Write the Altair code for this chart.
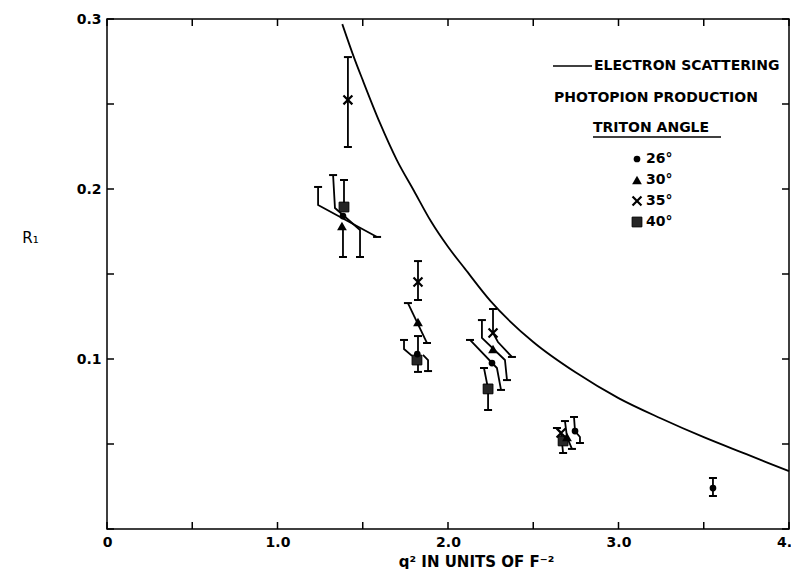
import altair as alt
import pandas as pd

# ---------------- data ----------------
# electron scattering curve
curve_q2 = [1.38, 1.45, 1.50, 1.60, 1.70, 1.80, 1.90, 2.00, 2.10, 2.25, 2.50, 2.75, 3.00, 3.25, 3.50, 3.75, 4.00]
curve_R = [0.297, 0.277, 0.264, 0.239, 0.217, 0.199, 0.181, 0.166, 0.153, 0.134, 0.110, 0.092, 0.077, 0.065, 0.054, 0.044, 0.034]

# photopion production points by triton angle
deg26_q2 = [1.384, 1.820, 2.258, 2.745, 3.554]
deg26_R = [0.1841, 0.1029, 0.0976, 0.0576, 0.0241]
deg30_q2 = [1.378, 1.824, 2.264, 2.698]
deg30_R = [0.1782, 0.1218, 0.1059, 0.0541]
deg35_q2 = [1.413, 1.824, 2.264, 2.663]
deg35_R = [0.2524, 0.1453, 0.1153, 0.0565]
deg40_q2 = [1.390, 1.818, 2.235, 2.675]
deg40_R = [0.1894, 0.0994, 0.0824, 0.0518]

# error bars (drawn as displaced polylines), end caps flags (first, last)
bar_q2 = [
    [1.413, 1.413],
    [1.238, 1.238, 1.584],
    [1.326, 1.337, 1.484, 1.484],
    [1.390, 1.390],
    [1.384, 1.384],
    [1.824, 1.824],
    [1.765, 1.877],
    [1.824, 1.824],
    [1.742, 1.742, 1.789],
    [1.853, 1.883, 1.883],
    [2.264, 2.264, 2.293, 2.375],
    [2.211, 2.235, 2.235],
    [2.199, 2.199, 2.334, 2.346],
    [2.129, 2.287, 2.311],
    [2.739, 2.745, 2.774, 2.774],
    [2.686, 2.698, 2.727],
    [2.639, 2.663, 2.675],
    [3.554, 3.554],
]
bar_R = [
    [0.2776, 0.2247],
    [0.2012, 0.1906, 0.1718],
    [0.2082, 0.1888, 0.1759, 0.1600],
    [0.2053, 0.1894],
    [0.1782, 0.1600],
    [0.1576, 0.1347],
    [0.1329, 0.1094],
    [0.1135, 0.0924],
    [0.1112, 0.1059, 0.1018],
    [0.1024, 0.0994, 0.0929],
    [0.1294, 0.1153, 0.1100, 0.1012],
    [0.0947, 0.0824, 0.0700],
    [0.1229, 0.1124, 0.0994, 0.0876],
    [0.1112, 0.0947, 0.0818],
    [0.0659, 0.0576, 0.0541, 0.0506],
    [0.0635, 0.0541, 0.0471],
    [0.0594, 0.0565, 0.0447],
    [0.0300, 0.0194],
]
bar_caps = [
    (True, True), (True, True), (True, True), (True, False), (False, True),
    (True, True), (True, True), (True, True), (True, False), (False, True),
    (True, True), (True, True), (True, True), (True, True),
    (True, True), (True, True), (True, True), (True, True),
]

x_ticks = [0.0, 0.5, 1.0, 1.5, 2.0, 2.5, 3.0, 3.5, 4.0]
y_ticks = [0.0, 0.05, 0.10, 0.15, 0.20, 0.25, 0.30]
x_labels = [0, 1, 2, 3, 4]
y_labels = [0.1, 0.2, 0.3]

legend_labels = ["26°", "30°", "35°", "40°"]
legend_kinds = ["circle", "triangle", "x", "square"]

# ---------------- layout ----------------
W, H = 682, 510
FONT = "DejaVu Sans"

xs = alt.Scale(domain=[0, 4], nice=False, zero=False)
ys = alt.Scale(domain=[0, 0.3], nice=False, zero=False)

xaxis = alt.Axis(
    values=x_labels, ticks=False, domain=False, grid=False,
    labelExpr="datum.value == 0 ? '0' : format(datum.value, '.1f')",
    labelFont=FONT, labelFontSize=14, labelFontWeight="bold", labelColor="black",
    labelPadding=6, labelFlush=False, labelOverlap=False,
    title="q² IN UNITS OF F⁻²", titleFont=FONT, titleFontSize=15, titleFontWeight="bold",
    titleColor="black", titleX=369, titleY=32, titleBaseline="middle", titleAlign="center",
)
yaxis = alt.Axis(
    values=y_labels, ticks=False, domain=False, grid=False, format=".1f",
    labelFont=FONT, labelFontSize=14, labelFontWeight="bold", labelColor="black",
    labelPadding=6, labelFlush=False, labelOverlap=False,
    title="R₁", titleFont=FONT, titleFontSize=15, titleFontWeight="normal",
    titleColor="black", titleAngle=0, titleX=-77, titleY=218,
    titleBaseline="middle", titleAlign="center",
)


def X(field):
    return alt.X(field, type="quantitative", scale=xs, axis=xaxis)


def Y(field):
    return alt.Y(field, type="quantitative", scale=ys, axis=yaxis)


MARKS = {
    "circle": dict(shape="circle", filled=True, size=45, color="black", opacity=1),
    "triangle": dict(shape="triangle-up", filled=True, size=95, color="black", opacity=1),
    "x": dict(shape="M-1,-1L1,1M-1,1L1,-1", filled=False, size=80, color="black",
              strokeWidth=2.2, opacity=1),
    "square": dict(shape="square", filled=True, size=95, fill="#262626", stroke="black",
                   strokeWidth=1, opacity=1),
}

# ---------------- tables ----------------
curve_df = pd.DataFrame({"q2": curve_q2, "R": curve_R})

bar_rows, cap_rows = [], []
for b, (qs, rs, caps) in enumerate(zip(bar_q2, bar_R, bar_caps)):
    for i, (q, r) in enumerate(zip(qs, rs)):
        bar_rows.append({"bar": b, "i": i, "q2": q, "R": r})
    if caps[0]:
        cap_rows.append({"q2": qs[0], "R": rs[0]})
    if caps[1]:
        cap_rows.append({"q2": qs[-1], "R": rs[-1]})
bar_df = pd.DataFrame(bar_rows)
cap_df = pd.DataFrame(cap_rows)

pts = {
    "square": pd.DataFrame({"q2": deg40_q2, "R": deg40_R}),
    "triangle": pd.DataFrame({"q2": deg30_q2, "R": deg30_R}),
    "circle": pd.DataFrame({"q2": deg26_q2, "R": deg26_R}),
    "x": pd.DataFrame({"q2": deg35_q2, "R": deg35_R}),
}

xt_df = pd.DataFrame({"t": x_ticks})
yt_df = pd.DataFrame({"t": y_ticks})
one = pd.DataFrame({"a": [0]})

layers = []

# frame ticks (inward)
layers.append(alt.Chart(xt_df).mark_rule(color="black", strokeWidth=1.5).encode(
    x=X("t"), y=alt.value(H), y2=alt.value(H - 7)))
layers.append(alt.Chart(xt_df).mark_rule(color="black", strokeWidth=1.5).encode(
    x=X("t"), y=alt.value(0), y2=alt.value(7)))
layers.append(alt.Chart(yt_df).mark_rule(color="black", strokeWidth=1.5).encode(
    y=Y("t"), x=alt.value(0), x2=alt.value(7)))
layers.append(alt.Chart(yt_df).mark_rule(color="black", strokeWidth=1.5).encode(
    y=Y("t"), x=alt.value(W), x2=alt.value(W - 7)))

# curve
layers.append(alt.Chart(curve_df).mark_line(color="black", strokeWidth=1.8,
                                            interpolate="monotone").encode(
    x=X("q2"), y=Y("R")))

# error bars
layers.append(alt.Chart(bar_df).mark_line(color="black", strokeWidth=1.8).encode(
    x=X("q2"), y=Y("R"), detail="bar:N", order="i:Q"))
layers.append(alt.Chart(cap_df).mark_point(shape="M-1,0L1,0", filled=False, size=64,
                                           color="black", strokeWidth=2, opacity=1).encode(
    x=X("q2"), y=Y("R")))

# markers
for kind in ["square", "triangle", "circle", "x"]:
    layers.append(alt.Chart(pts[kind]).mark_point(**MARKS[kind]).encode(x=X("q2"), y=Y("R")))

# ---------------- legend ----------------
TXT = dict(font=FONT, fontSize=14, fontWeight="bold", color="black",
           align="left", baseline="middle")
layers.append(alt.Chart(one).mark_rule(color="black", strokeWidth=1.5).encode(
    x=alt.value(446), x2=alt.value(485), y=alt.value(47)))
for text, px, py in [("ELECTRON SCATTERING", 487, 47),
                     ("PHOTOPION PRODUCTION", 447, 79),
                     ("TRITON  ANGLE", 486, 109)]:
    layers.append(alt.Chart(one).mark_text(**TXT).encode(
        x=alt.value(px), y=alt.value(py), text=alt.value(text)))
layers.append(alt.Chart(one).mark_rule(color="black", strokeWidth=1.5).encode(
    x=alt.value(486), x2=alt.value(614), y=alt.value(118)))
for k, (lab, kind) in enumerate(zip(legend_labels, legend_kinds)):
    py = 140 + 21 * k
    layers.append(alt.Chart(one).mark_point(**MARKS[kind]).encode(
        x=alt.value(530), y=alt.value(py)))
    layers.append(alt.Chart(one).mark_text(**TXT).encode(
        x=alt.value(539), y=alt.value(py), text=alt.value(lab)))

chart = alt.layer(*layers).properties(
    width=W, height=H,
    autosize=alt.AutoSizeParams(type="none"),
    padding={"left": 107, "top": 19, "right": 2, "bottom": 40},
    background="white",
).configure_view(stroke="black", strokeWidth=1.5).configure_axis(grid=False)

chart.save("out.html", embed_options={"renderer": "svg", "actions": False})
